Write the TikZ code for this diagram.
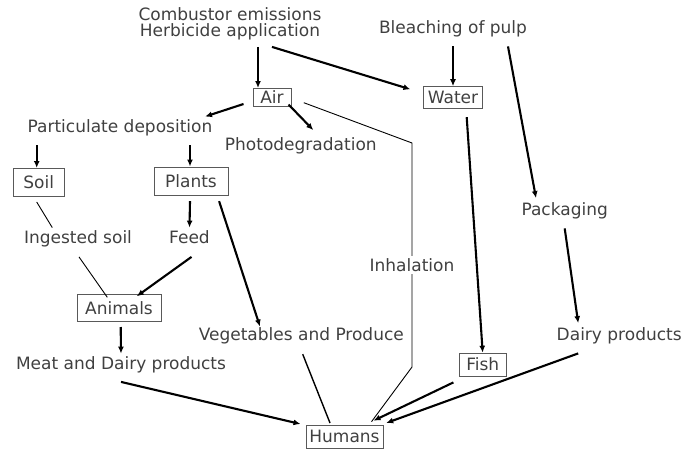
\documentclass[tikz,border=0pt]{standalone}
\usepackage{fontspec}
\setmainfont{DejaVu Sans}
\usepackage{tikz}
\usetikzlibrary{arrows.meta}
\tikzstyle{txt} = [text=black!75, font=\fontsize{17}{17}\selectfont,
    text height=12.4pt, text depth=0pt, inner sep=3pt]
\tikzstyle{box} = [txt, draw=black!65, line width=1pt, inner sep=0pt]
\tikzstyle{flow} = [-{Latex[length=7pt,width=6pt]}, line width=2.1pt]
\tikzstyle{link} = [line width=0.9pt]

\begin{document}
\begin{tikzpicture}
\begin{scope}[x=1pt,y=-1pt]
    \useasboundingbox (0,0) rectangle (684,450);
    %sources
    \node[txt] (emis) at (230,14) {Combustor emissions};
    \node[txt] (herb) at (230,30.5) {Herbicide application};
    \node[txt] (pulp) at (453,27) {Bleaching of pulp};
    %media
    \node[box,minimum width=38pt,minimum height=18pt] (air) at (272,97.5) {Air};
    \node[box,minimum width=59pt,minimum height=22pt] (water) at (453,97.7) {Water};
    \node[box,minimum width=51pt,minimum height=28pt] (soil) at (38.7,182.5) {Soil};
    \node[box,minimum width=74pt,minimum height=28pt] (plants) at (191,181) {Plants};
    \node[box,minimum width=84pt,minimum height=27pt] (animals) at (119,308) {Animals};
    \node[box,minimum width=47pt,minimum height=23pt] (fish) at (482.7,364.7) {Fish};
    \node[box,minimum width=77pt,minimum height=23pt] (humans) at (344.5,436.7) {Humans};
    %pathways
    \node[txt] (partdep) at (120,126) {Particulate deposition};
    \node[txt] (photo) at (300.8,144) {Photodegradation};
    \node[txt] (ingsoil) at (78,237) {Ingested soil};
    \node[txt] (feed) at (189.5,237) {Feed};
    \node[txt] (packaging) at (564.7,209) {Packaging};
    \node[txt] (veg) at (301.3,334) {Vegetables and Produce};
    \node[txt] (dairy) at (619.2,334) {Dairy products};
    \node[txt] (meat) at (121,363) {Meat and Dairy products};
    \coordinate (bendA) at (412,143);
    \coordinate (bendB) at (412,367);
    %lines
    \draw[flow] ([xshift=28pt,yshift=-7pt]herb.south) -- ([xshift=-14pt]air.north);
    \draw[flow] ([xshift=42pt,yshift=-7pt]herb.south) -- ([xshift=-12.6pt,yshift=8.4pt]water.west);
    \draw[flow] ([yshift=-10pt]pulp.south) -- (water.north);
    \draw[flow] ([xshift=55pt,yshift=-10pt]pulp.south) -- ([xshift=-28.7pt,yshift=1.5pt]packaging.north);
    \draw[flow] ([xshift=-9pt,yshift=3pt]air.south west) -- ([xshift=85pt]partdep.north);
    \draw[flow] ([xshift=-3pt,yshift=2.5pt]air.south east) -- ([xshift=12.5pt,yshift=4.5pt]photo.north);
    \draw[link] ([xshift=12.3pt,yshift=-5.2pt]air.east) -- (bendA) -- (bendB)
        -- ([xshift=27pt,yshift=3pt]humans.north);
    \node[txt,fill=white,inner xsep=1pt] (inhal) at (412,265) {Inhalation};
    \draw[flow] ([xshift=13.7pt,yshift=-8pt]water.south) -- (fish.north);
    \draw[flow] ([yshift=-10pt]packaging.south) -- ([xshift=-41pt,yshift=1.5pt]dairy.north);
    \draw[flow] ([xshift=-41pt,yshift=-10pt]dairy.south) -- ([xshift=2.7pt,yshift=1.7pt]humans.north east);
    \draw[flow] ([xshift=-5.3pt,yshift=-5.7pt]fish.south west) -- ([xshift=29pt,yshift=4pt]humans.north);
    \draw[flow] ([xshift=-83.3pt,yshift=-10pt]partdep.south) -- ([xshift=-2pt]soil.north);
    \draw[flow] ([xshift=70pt,yshift=-10pt]partdep.south) -- ([xshift=-1pt]plants.north);
    \draw[link] ([xshift=-2pt,yshift=-5pt]soil.south) -- ([xshift=-25.7pt]ingsoil.north);
    \draw[link] ([xshift=1pt,yshift=-10.5pt]ingsoil.south) -- ([xshift=-11.7pt,yshift=-3.3pt]animals.north);
    \draw[flow] ([xshift=-1pt,yshift=-5.7pt]plants.south) -- (feed.north);
    \draw[flow] ([xshift=2pt,yshift=-10.5pt]feed.south) -- ([xshift=17.7pt,yshift=-2.3pt]animals.north);
    \draw[flow] ([xshift=-9.4pt,yshift=-5.7pt]plants.south east) -- ([xshift=-41.3pt,yshift=-2pt]veg.north);
    \draw[link,line width=1.4pt] ([xshift=1.4pt,yshift=-10.8pt]veg.south) -- ([xshift=-14.5pt,yshift=1.7pt]humans.north);
    \draw[flow] ([xshift=1.7pt,yshift=-5pt]animals.south) -- (meat.north);
    \draw[flow] ([yshift=-9.5pt]meat.south) -- ([xshift=-5pt,yshift=0.7pt]humans.north west);
\end{scope}
\end{tikzpicture}
\end{document}
